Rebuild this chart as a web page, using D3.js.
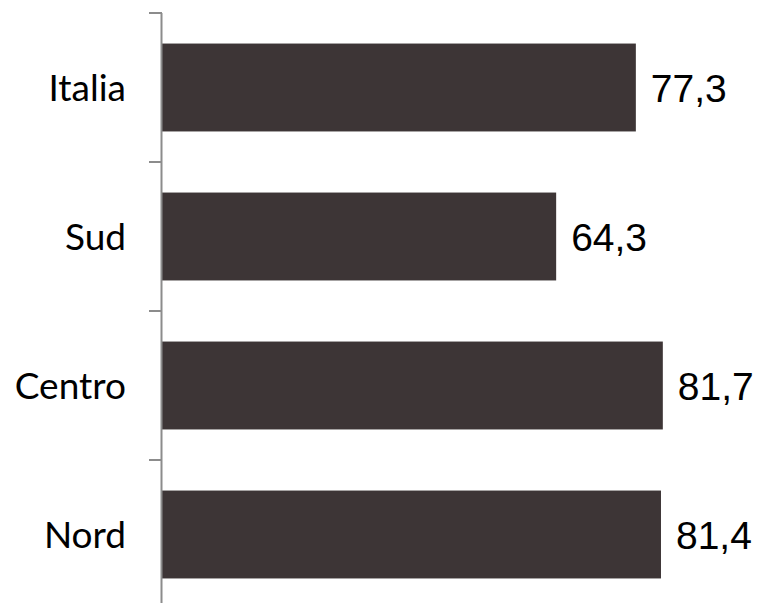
<!DOCTYPE html>
<html>
<head>
<meta charset="utf-8">
<script src="https://cdn.jsdelivr.net/npm/d3@7"></script>
<style>
  body { margin: 0; background: #fff; }
  svg { display: block; }
</style>
</head>
<body>
<svg id="chart" width="761" height="603"></svg>
<script>
// data, top to bottom
const categories = ['Italia', 'Sud', 'Centro', 'Nord']
const values = [77.3, 64.3, 81.7, 81.4]

const svg = d3.select('#chart')
const x0 = 162

const xScale = d3.scaleLinear()
    .domain([0, 100])
    .range([x0, x0 + 613])

const yScale = d3.scaleBand()
    .domain(categories)
    .range([13, 609])
    .paddingInner(0.41)
    .paddingOuter(0.205)

svg.selectAll('rect')
    .data(values)
    .enter()
    .append('rect')
    .attr('x', xScale(0))
    .attr('y', (d, i) => yScale(categories[i]))
    .attr('width', d => xScale(d) - xScale(0))
    .attr('height', yScale.bandwidth())
    .style('fill', '#3d3536')

// value labels
svg.selectAll('text.val')
    .data(values)
    .enter()
    .append('text')
    .attr('class', 'val')
    .attr('x', d => xScale(d) + 15)
    .attr('y', (d, i) => yScale(categories[i]) + yScale.bandwidth() / 2)
    .attr('dy', '0.36em')
    .style('font-family', 'Liberation Sans, Arial, sans-serif')
    .style('font-size', '39px')
    .style('fill', '#000')
    .text(d => d.toFixed(1).replace('.', ','))

// category axis: ticks between bands
const tickY = d3.range(categories.length + 1).map(i => 13 + i * yScale.step())
const axis = svg.append('g').attr('class', 'y-axis')

axis.append('line')
    .attr('x1', x0 - 0.5).attr('x2', x0 - 0.5)
    .attr('y1', 13).attr('y2', 603)
    .style('stroke', '#8c8c8c').style('stroke-width', 2)

axis.selectAll('line.tick')
    .data(tickY)
    .enter()
    .append('line')
    .attr('class', 'tick')
    .attr('x1', x0 - 13).attr('x2', x0)
    .attr('y1', d => d).attr('y2', d => d)
    .style('stroke', '#8c8c8c').style('stroke-width', 2)

axis.selectAll('text')
    .data(categories)
    .enter()
    .append('text')
    .attr('x', 126)
    .attr('y', d => yScale(d) + yScale.bandwidth() / 2)
    .attr('dy', '0.36em')
    .attr('text-anchor', 'end')
    .style('font-family', 'Lato, sans-serif')
    .style('font-size', '37px')
    .style('fill', '#000')
    .text(d => d)
</script>
</body>
</html>
